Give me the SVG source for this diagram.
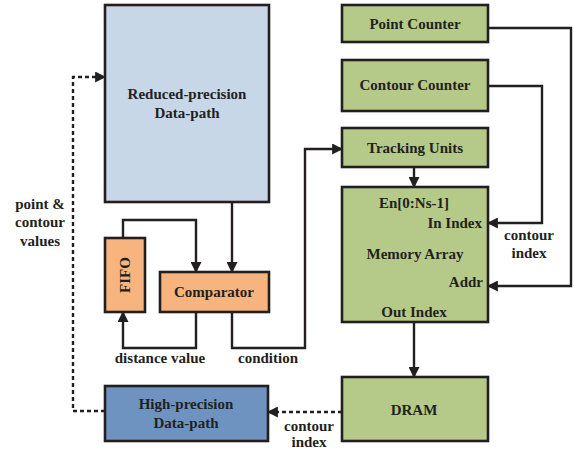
<svg xmlns="http://www.w3.org/2000/svg" width="574" height="450" viewBox="0 0 574 450">
<defs>
<marker id="ah" viewBox="0 0 10 10" refX="9" refY="5" markerWidth="11" markerHeight="11" markerUnits="userSpaceOnUse" orient="auto">
<path d="M0,0 L10,5 L0,10 z" fill="#231f20"/>
</marker>
<style>
.box{stroke:#231f20;stroke-width:2.6}
.g{fill:#b5ca88}
.lb{fill:#c7d7e7}
.db{fill:#6e93c0}
.or{fill:#f7b47e}
text{font-family:"Liberation Serif","Times New Roman",serif;font-weight:bold;font-size:15px;fill:#231f20}
.c{text-anchor:middle}
.r{text-anchor:end}
.ln{fill:none;stroke:#231f20;stroke-width:2.4}
.dash{stroke-dasharray:4,3}
</style>
</defs>
<g id="reduced">
<rect class="box lb" x="105" y="5" width="164" height="197"/>
<text class="c" x="187" y="99">Reduced-precision</text>
<text class="c" x="187" y="118">Data-path</text>
</g>
<g id="fifo">
<rect class="box or" x="105" y="238" width="40" height="74"/>
<text class="c" transform="translate(130,275) rotate(-90)">FIFO</text>
</g>
<g id="comparator">
<rect class="box or" x="160" y="272" width="109" height="40"/>
<text class="c" x="214" y="297">Comparator</text>
</g>
<g id="high">
<rect class="box db" x="105" y="386" width="163" height="55"/>
<text class="c" x="186" y="409">High-precision</text>
<text class="c" x="186" y="428">Data-path</text>
</g>
<g id="point">
<rect class="box g" x="342" y="5" width="146" height="37"/>
<text class="c" x="415" y="29">Point Counter</text>
</g>
<g id="contour">
<rect class="box g" x="342" y="60" width="146" height="51"/>
<text class="c" x="415" y="90">Contour Counter</text>
</g>
<g id="tracking">
<rect class="box g" x="342" y="128" width="146" height="39"/>
<text class="c" x="415" y="153">Tracking Units</text>
</g>
<g id="memory">
<rect class="box g" x="342" y="187" width="146" height="135"/>
<text class="c" x="414" y="208">En[0:Ns-1]</text>
<text class="r" x="482" y="228">In Index</text>
<text class="c" x="415" y="259">Memory Array</text>
<text class="r" x="483" y="287">Addr</text>
<text class="c" x="414" y="317">Out Index</text>
</g>
<g id="dram">
<rect class="box g" x="342" y="377" width="146" height="64"/>
<text class="c" x="414" y="415">DRAM</text>
</g>
<g id="connectors">
<path class="ln dash" d="M105,411 H73 V77 H105" marker-end="url(#ah)"/>
<path class="ln" d="M123,238 V220 H196 V272" marker-end="url(#ah)"/>
<path class="ln" d="M232,202 V272" marker-end="url(#ah)"/>
<path class="ln" d="M196,312 V348 H123 V312" marker-end="url(#ah)"/>
<path class="ln" d="M232,312 V348 H305 V149 H342" marker-end="url(#ah)"/>
<path class="ln" d="M414,167 V187" marker-end="url(#ah)"/>
<path class="ln" d="M488,28 H571 V286 H488" marker-end="url(#ah)"/>
<path class="ln" d="M488,86 H542 V223 H488" marker-end="url(#ah)"/>
<path class="ln" d="M414,322 V377" marker-end="url(#ah)"/>
<path class="ln dash" d="M342,412 H268" marker-end="url(#ah)"/>
</g>
<g id="labels">
<text class="c" x="40" y="209">point &amp;</text>
<text class="c" x="40" y="227">contour</text>
<text class="c" x="40" y="246">values</text>
<text class="c" x="160" y="363">distance value</text>
<text class="c" x="268" y="363">condition</text>
<text class="c" x="309" y="431">contour</text>
<text class="c" x="309" y="447">index</text>
<text class="c" x="529" y="240">contour</text>
<text class="c" x="529" y="258">index</text>
</g>
</svg>
